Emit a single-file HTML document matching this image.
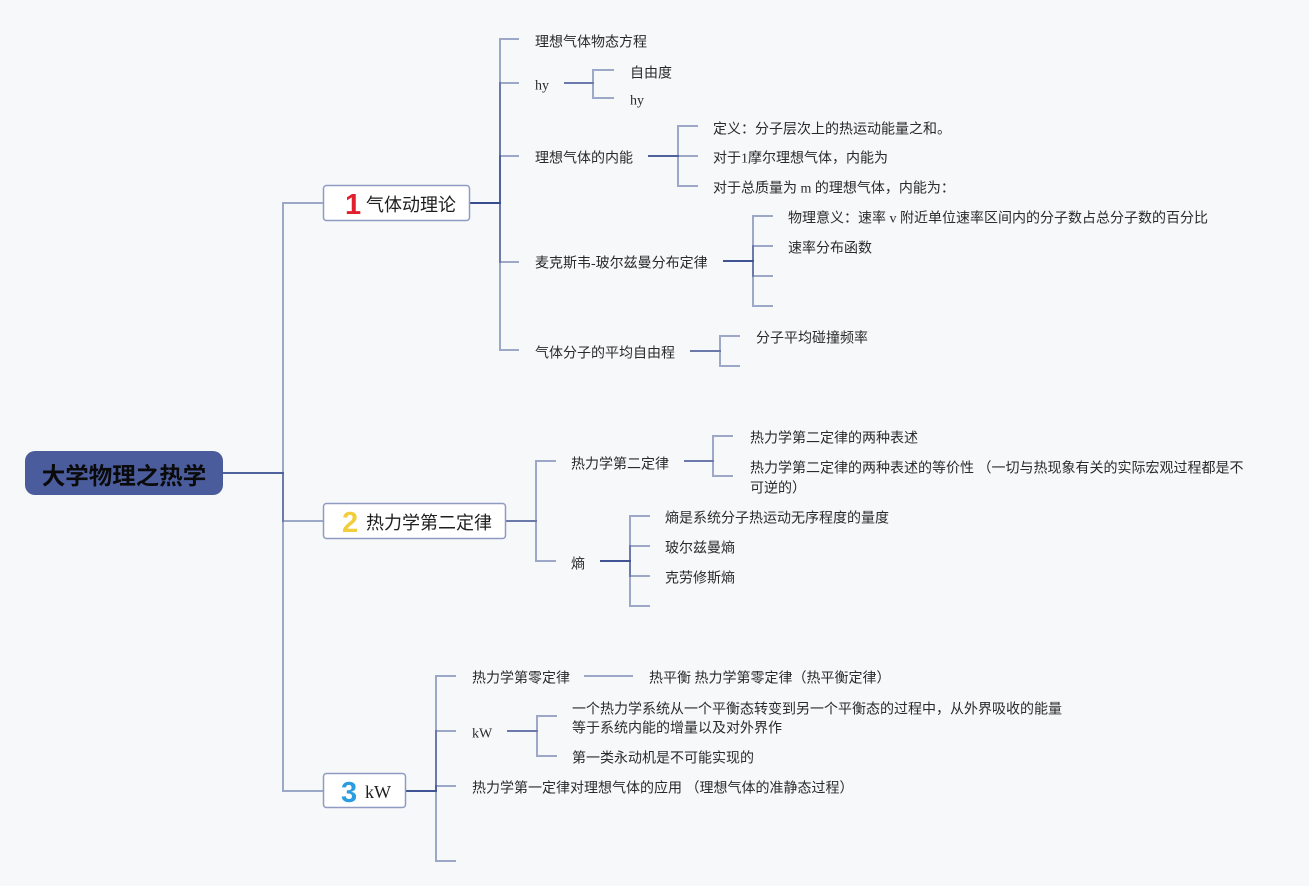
<!DOCTYPE html>
<html>
<head>
<meta charset="utf-8">
<style>
  html, body { margin:0; padding:0; background:#f7f8fa; }
  svg { display:block; }
  .l { fill:none; stroke:#2f4589; stroke-opacity:0.45; stroke-width:2; }
  .t { font-family:"Liberation Serif","Noto Sans CJK SC",sans-serif; font-size:14px; fill:#2a2a2a; dominant-baseline:central; }
  .b { font-family:"Liberation Sans","Noto Sans CJK SC",sans-serif; font-size:18px; fill:#1e1e1e; dominant-baseline:central; }
  .bs { font-family:"Liberation Serif","Noto Sans CJK SC",serif; font-size:18px; fill:#1e1e1e; dominant-baseline:central; }
  .d { font-family:"Liberation Sans","DejaVu Sans",sans-serif; font-weight:bold; font-size:29px; dominant-baseline:central; }
</style>
</head>
<body>
<svg width="1309" height="886" viewBox="0 0 1309 886" xmlns="http://www.w3.org/2000/svg">
  <rect x="0" y="0" width="1309" height="886" fill="#f7f8fa"/>

  <!-- Root branches -->
  <path class="l" d="M223 473 H283 V203 H323"/>
  <path class="l" d="M223 473 H283 V521 H323"/>
  <path class="l" d="M223 473 H283 V791 H323"/>

  <!-- Root node -->
  <rect x="25" y="451" width="198" height="44" rx="10" ry="10" fill="#4a5c9c"/>
  <text x="124" y="474" text-anchor="middle" style="font-family:'Noto Sans CJK SC','WenQuanYi Zen Hei',sans-serif;font-weight:bold;font-size:23.5px;fill:#0a0a0a;dominant-baseline:central;">大学物理之热学</text>

  <!-- ===== Section 1 ===== -->
  <path class="l" d="M470 203 H500 V39 H519"/>
  <path class="l" d="M470 203 H500 V83 H519"/>
  <path class="l" d="M470 203 H500 V156 H519"/>
  <path class="l" d="M470 203 H500 V262 H519"/>
  <path class="l" d="M470 203 H500 V350 H519"/>

  <rect x="323.5" y="185.5" width="146" height="35" rx="3" ry="3" fill="#ffffff" stroke="#8f9bc2" stroke-width="1.5"/>
  <text class="d" x="345" y="205" fill="#e0202f">1</text>
  <text class="b" x="366" y="205">气体动理论</text>

  <text class="t" x="535" y="43">理想气体物态方程</text>
  <text class="t" x="535" y="86">hy</text>
  <path class="l" d="M564 83 H593 V70 H614"/>
  <path class="l" d="M564 83 H593 V98 H614"/>
  <text class="t" x="630" y="74">自由度</text>
  <text class="t" x="630" y="101">hy</text>

  <text class="t" x="535" y="159">理想气体的内能</text>
  <path class="l" d="M648 156 H678 V126 H698"/>
  <path class="l" d="M648 156 H678 V156 H698"/>
  <path class="l" d="M648 156 H678 V186 H698"/>
  <text class="t" x="713" y="130">定义：分子层次上的热运动能量之和。</text>
  <text class="t" x="713" y="159">对于1摩尔理想气体，内能为</text>
  <text class="t" x="713" y="189">对于总质量为 m 的理想气体，内能为：</text>

  <text class="t" x="535" y="264">麦克斯韦-玻尔兹曼分布定律</text>
  <path class="l" d="M723 261 H753 V216 H773"/>
  <path class="l" d="M723 261 H753 V246 H773"/>
  <path class="l" d="M723 261 H753 V276 H773"/>
  <path class="l" d="M723 261 H753 V306 H773"/>
  <text class="t" x="788" y="219">物理意义：速率 v 附近单位速率区间内的分子数占总分子数的百分比</text>
  <text class="t" x="788" y="249">速率分布函数</text>

  <text class="t" x="535" y="354">气体分子的平均自由程</text>
  <path class="l" d="M690 351 H720 V336 H740"/>
  <path class="l" d="M690 351 H720 V366 H740"/>
  <text class="t" x="756" y="339">分子平均碰撞频率</text>

  <!-- ===== Section 2 ===== -->
  <path class="l" d="M506 521 H536 V461 H556"/>
  <path class="l" d="M506 521 H536 V561 H556"/>

  <rect x="323.5" y="503.5" width="182" height="35" rx="3" ry="3" fill="#ffffff" stroke="#8f9bc2" stroke-width="1.5"/>
  <text class="d" x="342" y="523" fill="#f2cd3c">2</text>
  <text class="b" x="366" y="523">热力学第二定律</text>

  <text class="t" x="571" y="465">热力学第二定律</text>
  <path class="l" d="M684 461 H713 V436 H733"/>
  <path class="l" d="M684 461 H713 V476 H733"/>
  <text class="t" x="750" y="439">热力学第二定律的两种表述</text>
  <text class="t" x="750" y="469">热力学第二定律的两种表述的等价性 （一切与热现象有关的实际宏观过程都是不</text>
  <text class="t" x="750" y="489">可逆的）</text>

  <text class="t" x="571" y="565">熵</text>
  <path class="l" d="M600 561 H630 V516 H650"/>
  <path class="l" d="M600 561 H630 V546 H650"/>
  <path class="l" d="M600 561 H630 V576 H650"/>
  <path class="l" d="M600 561 H630 V606 H650"/>
  <text class="t" x="665" y="519">熵是系统分子热运动无序程度的量度</text>
  <text class="t" x="665" y="549">玻尔兹曼熵</text>
  <text class="t" x="665" y="579">克劳修斯熵</text>

  <!-- ===== Section 3 ===== -->
  <path class="l" d="M406 791 H436 V676 H456"/>
  <path class="l" d="M406 791 H436 V731 H456"/>
  <path class="l" d="M406 791 H436 V786 H456"/>
  <path class="l" d="M406 791 H436 V861 H456"/>

  <rect x="323.5" y="773.5" width="82" height="34" rx="3" ry="3" fill="#ffffff" stroke="#8f9bc2" stroke-width="1.5"/>
  <text class="d" x="341" y="793" fill="#2a9de0">3</text>
  <text class="bs" x="365" y="792">kW</text>

  <text class="t" x="472" y="679">热力学第零定律</text>
  <path class="l" d="M584 676 H633"/>
  <text class="t" x="649" y="679">热平衡 热力学第零定律（热平衡定律）</text>

  <text class="t" x="472" y="734">kW</text>
  <path class="l" d="M507 731 H537 V716 H557"/>
  <path class="l" d="M507 731 H537 V756 H557"/>
  <text class="t" x="572" y="710">一个热力学系统从一个平衡态转变到另一个平衡态的过程中，从外界吸收的能量</text>
  <text class="t" x="572" y="729">等于系统内能的增量以及对外界作</text>
  <text class="t" x="572" y="759">第一类永动机是不可能实现的</text>

  <text class="t" x="472" y="789">热力学第一定律对理想气体的应用 （理想气体的准静态过程）</text>
</svg>
</body>
</html>
